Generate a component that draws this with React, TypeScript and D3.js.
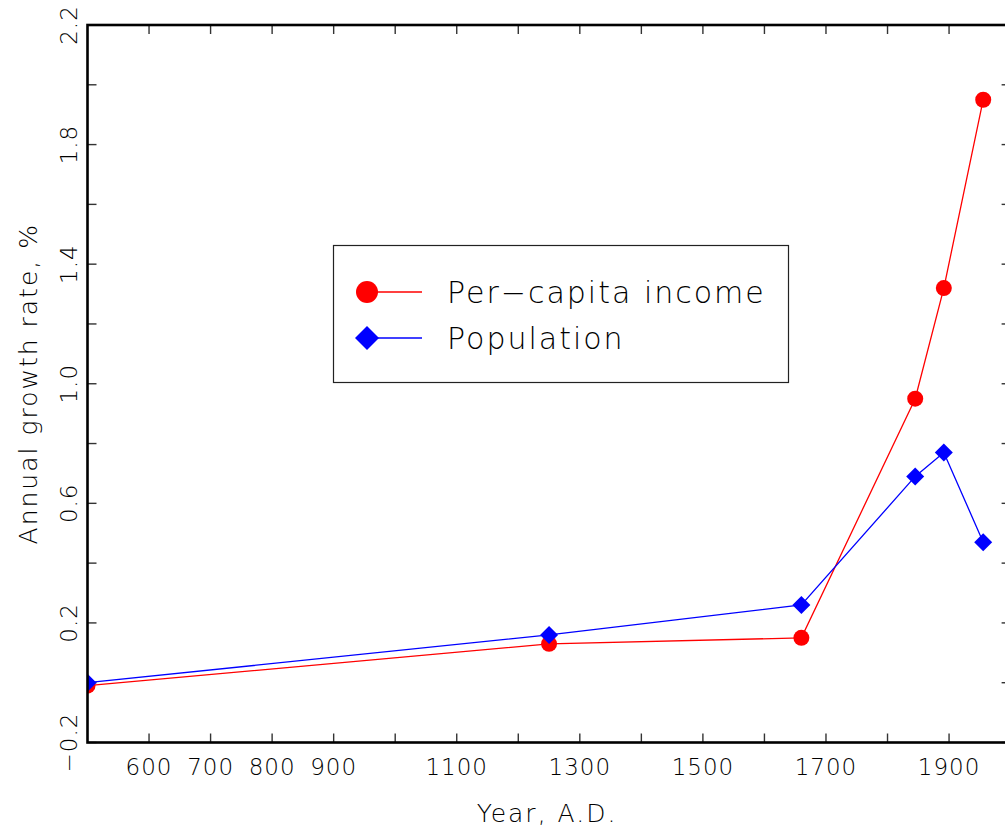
import React from "react";
import * as d3 from "d3";

const years = [500, 1250, 1660, 1845, 1891.5, 1955.5];
const incomeGrowth = [-0.01, 0.13, 0.15, 0.95, 1.32, 1.95];
const populationGrowth = [0.0, 0.16, 0.26, 0.69, 0.77, 0.47];
const xTickValues = [600, 700, 800, 900, 1000, 1100, 1200, 1300, 1400, 1500, 1600, 1700, 1800, 1900];
const xTickLabels = [600, 700, 800, 900, 1100, 1300, 1500, 1700, 1900];
const yTickValues = [-0.2, 0.0, 0.2, 0.4, 0.6, 0.8, 1.0, 1.2, 1.4, 1.6, 1.8, 2.0, 2.2];
const yTickLabels = ["−0.2", "0.2", "0.6", "1.0", "1.4", "1.8", "2.2"];
const yLabelValues = [-0.2, 0.2, 0.6, 1.0, 1.4, 1.8, 2.2];
const seriesNames = ["Per−capita income", "Population"];

const W = 1005;
const H = 831;
const left = 87.5;
const right = 1010.6;
const top = 25;
const bottom = 742.5;

const FONT = "'DejaVu Sans', sans-serif";
const TEXT_FILL = "#000";
const TEXT_WEIGHT = 200;

export default function App() {
  const x = d3.scaleLinear().domain([500, 2000]).range([left, right]);
  const y = d3.scaleLinear().domain([-0.2, 2.2]).range([bottom, top]);
  const line = d3
    .line<number>()
    .x((_, i) => x(years[i]))
    .y((d) => y(d));
  const diamond = (cx: number, cy: number, r: number) =>
    `M${cx},${cy - r}L${cx + r},${cy}L${cx},${cy + r}L${cx - r},${cy}Z`;
  const tickLen = 9;

  return (
    <svg
      width={W}
      height={H}
      style={{ position: "absolute", left: 0, top: 0, display: "block", background: "#fff" }}
    >
      <defs>
        <clipPath id="plotclip">
          <rect x={left} y={top} width={right - left} height={bottom - top} />
        </clipPath>
      </defs>

      {/* ticks */}
      <g stroke="#333" strokeWidth={1.4}>
        {xTickValues.map((v) => (
          <g key={"xt" + v}>
            <line x1={x(v)} x2={x(v)} y1={bottom} y2={bottom - tickLen} />
            <line x1={x(v)} x2={x(v)} y1={top} y2={top + tickLen} />
          </g>
        ))}
        {yTickValues.map((v) => (
          <g key={"yt" + v}>
            <line x1={left} x2={left + tickLen} y1={y(v)} y2={y(v)} />
            <line x1={right} x2={right - tickLen} y1={y(v)} y2={y(v)} />
          </g>
        ))}
      </g>

      {/* data */}
      <g clipPath="url(#plotclip)">
        <path d={line(incomeGrowth) || ""} fill="none" stroke="#ff0000" strokeWidth={1.3} />
        <path d={line(populationGrowth) || ""} fill="none" stroke="#0000ff" strokeWidth={1.3} />
        {incomeGrowth.map((v, i) => (
          <circle key={"c" + i} cx={x(years[i])} cy={y(v)} r={8} fill="#ff0000" />
        ))}
        {populationGrowth.map((v, i) => (
          <path key={"d" + i} d={diamond(x(years[i]), y(v), 9)} fill="#0000ff" />
        ))}
      </g>

      {/* frame */}
      <rect
        x={left}
        y={top}
        width={right - left}
        height={bottom - top}
        fill="none"
        stroke="#000"
        strokeWidth={2.6}
      />

      {/* x tick labels */}
      <g fontFamily={FONT} fontWeight={TEXT_WEIGHT} fontSize={23} fill={TEXT_FILL} textAnchor="middle">
        {xTickLabels.map((v) => (
          <text key={"xl" + v} x={x(v)} y={775} letterSpacing={1}>
            {v}
          </text>
        ))}
      </g>

      {/* y tick labels */}
      <g fontFamily={FONT} fontWeight={TEXT_WEIGHT} fontSize={23} fill={TEXT_FILL} textAnchor="middle">
        {yLabelValues.map((v, i) => (
          <text
            key={"yl" + v}
            transform={`translate(77,${y(v)}) rotate(-90)`}
            letterSpacing={1}
          >
            {yTickLabels[i]}
          </text>
        ))}
      </g>

      {/* axis titles */}
      <text
        x={(left + right) / 2 - 2}
        y={822}
        fontFamily={FONT}
        fontWeight={TEXT_WEIGHT}
        fontSize={25}
        fill={TEXT_FILL}
        textAnchor="middle"
        letterSpacing={2}
      >
        Year, A.D.
      </text>
      <text
        transform={`translate(37,${(top + bottom) / 2}) rotate(-90)`}
        fontFamily={FONT}
        fontWeight={TEXT_WEIGHT}
        fontSize={25}
        fill={TEXT_FILL}
        textAnchor="middle"
        letterSpacing={2}
      >
        Annual growth rate, %
      </text>

      {/* legend */}
      <rect x={333.5} y={245.5} width={455} height={137} fill="#fff" stroke="#222" strokeWidth={1.2} />
      <line x1={367} x2={422} y1={292} y2={292} stroke="#ff0000" strokeWidth={1.3} />
      <circle cx={367} cy={292} r={11} fill="#ff0000" />
      <line x1={367} x2={422} y1={338} y2={338} stroke="#0000ff" strokeWidth={1.3} />
      <path d={diamond(367, 338, 12)} fill="#0000ff" />
      <g fontFamily={FONT} fontWeight={TEXT_WEIGHT} fontSize={30} fill={TEXT_FILL} letterSpacing={2}>
        <text x={447} y={303}>{seriesNames[0]}</text>
        <text x={447} y={349}>{seriesNames[1]}</text>
      </g>
    </svg>
  );
}
